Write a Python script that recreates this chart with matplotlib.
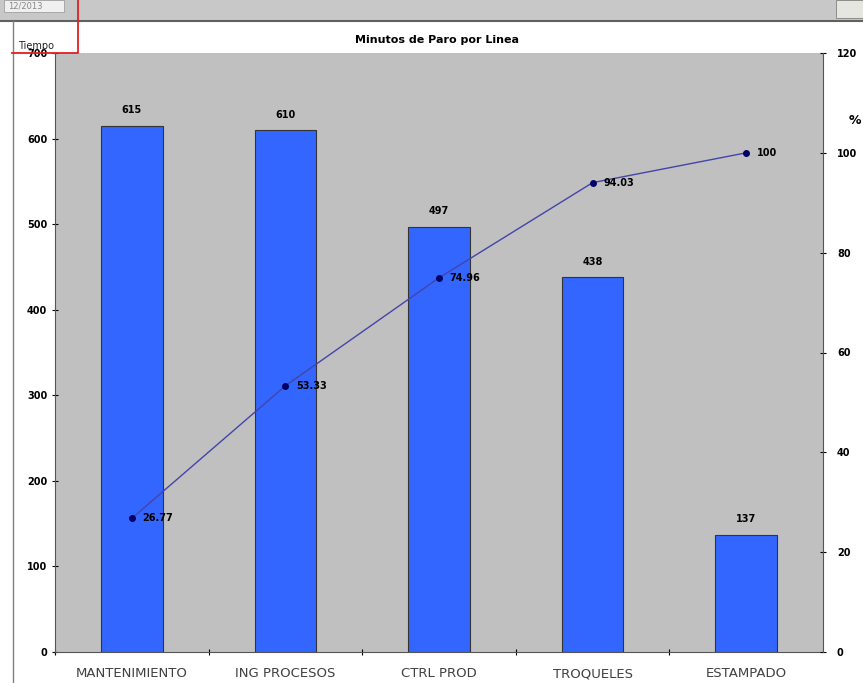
import matplotlib.pyplot as plt
from matplotlib.patches import Rectangle
from matplotlib.lines import Line2D

categorias = ["MANTENIMIENTO", "ING PROCESOS", "CTRL PROD", "TROQUELES", "ESTAMPADO"]
minutos = [615, 610, 497, 438, 137]
acumulado = [26.77, 53.33, 74.96, 94.03, 100]
etiquetas_pct = ["26.77", "53.33", "74.96", "94.03", "100"]

W, H = 863, 683
fig = plt.figure(figsize=(W / 100, H / 100), dpi=100)
fig.patch.set_facecolor("white")

# barra superior de la hoja de calculo
fig.patches.append(Rectangle((0, 1 - 20 / H), 1, 20 / H, transform=fig.transFigure,
                             facecolor="#c8c8c8", edgecolor="none", zorder=0))
fig.patches.append(Rectangle((4 / W, 1 - 12 / H), 60 / W, 12 / H, transform=fig.transFigure,
                             facecolor="#f0f0f0", edgecolor="#a0a0a0", lw=0.6, zorder=1))
fig.text(8 / W, 1 - 6 / H, "12/2013", fontsize=6, color="#888888", va="center")
fig.patches.append(Rectangle((836 / W, 1 - 18 / H), 27 / W, 18 / H, transform=fig.transFigure,
                             facecolor="#e6e6e0", edgecolor="#808080", lw=0.6, zorder=1))
fig.lines.append(Line2D([0, 1], [1 - 21 / H, 1 - 21 / H], transform=fig.transFigure,
                        color="#606060", lw=1.5))
fig.lines.append(Line2D([13 / W, 13 / W], [0, 1 - 21 / H], transform=fig.transFigure,
                        color="#808080", lw=1))
# marco rojo
fig.lines.append(Line2D([78 / W, 78 / W, 12 / W], [1, 1 - 53 / H, 1 - 53 / H],
                        transform=fig.transFigure, color="#e02020", lw=1.3, zorder=5))
fig.text(18 / W, 1 - 46 / H, "Tiempo", fontsize=7, color="#222222", va="center", zorder=6)

ax = fig.add_axes([55 / W, 1 - 652 / H, 768 / W, 599 / H])
ax.set_facecolor("#c0c0c0")
x = range(len(categorias))
ax.bar(x, minutos, width=0.4, color="#3366ff", edgecolor="#333333", lw=0.8, zorder=2)
for xi, v in zip(x, minutos):
    ax.text(xi, v + 12, str(v), ha="center", va="bottom", fontsize=7, fontweight="bold")

ax.set_xlim(-0.5, len(categorias) - 0.5)
ax.set_ylim(0, 700)
ax.set_yticks(range(0, 701, 100))
ax.set_xticks([i - 0.5 for i in range(len(categorias))], minor=False)
ax.set_xticklabels([])
ax.set_xticks(list(x), minor=True)
ax.set_xticklabels(categorias, minor=True, fontsize=9.5, color="#404040")
ax.tick_params(axis="x", which="minor", length=0, pad=11)
ax.tick_params(axis="x", which="major", length=4, direction="inout")
ax.tick_params(axis="y", labelsize=7, length=4, direction="inout")
for lab in ax.get_yticklabels():
    lab.set_fontweight("bold")
for s in ["top", "right"]:
    ax.spines[s].set_visible(False)
ax.spines["left"].set_color("#555555")
ax.spines["bottom"].set_color("#555555")

ax2 = ax.twinx()
ax2.set_ylim(0, 120)
ax2.set_yticks(range(0, 121, 20))
ax2.plot(list(x), acumulado, color="#4444aa", lw=1, marker="o", markersize=4,
         markerfacecolor="#000066", markeredgecolor="#000066", zorder=3)
for xi, v, t in zip(x, acumulado, etiquetas_pct):
    ax2.text(xi + 0.07, v, t, ha="left", va="center", fontsize=7, fontweight="bold")
ax2.tick_params(axis="y", labelsize=7, length=4, direction="inout", pad=8)
for lab in ax2.get_yticklabels():
    lab.set_fontweight("bold")
for s in ["top", "left", "bottom"]:
    ax2.spines[s].set_visible(False)
ax2.spines["right"].set_color("#555555")
fig.text(855 / W, 1 - 120 / H, "%", fontsize=9, fontweight="bold", ha="center", va="center")

fig.text(437 / W, 1 - 40 / H, "Minutos de Paro por Linea", fontsize=8, fontweight="bold",
         ha="center", va="center")

fig.savefig("out.png", dpi=100)
